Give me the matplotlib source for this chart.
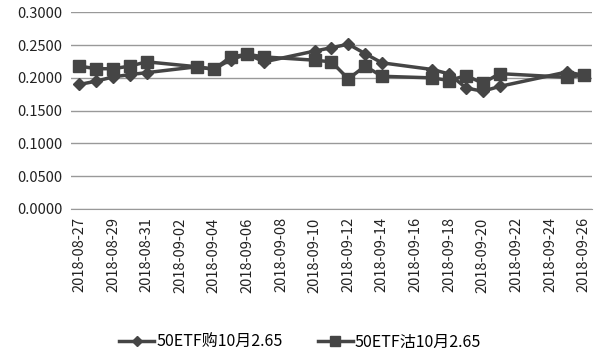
import matplotlib
matplotlib.use("Agg")
import matplotlib.pyplot as plt
import pandas as pd

dates = ["2018-08-27", "2018-08-28", "2018-08-29", "2018-08-30", "2018-08-31",
         "2018-09-03", "2018-09-04", "2018-09-05", "2018-09-06", "2018-09-07",
         "2018-09-10", "2018-09-11", "2018-09-12", "2018-09-13", "2018-09-14",
         "2018-09-17", "2018-09-18", "2018-09-19", "2018-09-20", "2018-09-21",
         "2018-09-25", "2018-09-26"]
call_vals = [0.190, 0.195, 0.2015, 0.205, 0.208,
             0.217, 0.213, 0.228, 0.236, 0.2245,
             0.241, 0.246, 0.2515, 0.237, 0.223,
             0.2128, 0.206, 0.1847, 0.1796, 0.187,
             0.209, 0.204]
put_vals = [0.218, 0.214, 0.214, 0.218, 0.2245,
            0.217, 0.213, 0.232, 0.236, 0.232,
            0.227, 0.2245, 0.1985, 0.218, 0.2025,
            0.200, 0.196, 0.2035, 0.192, 0.2065,
            0.201, 0.204]
call_label = "50ETF购10月2.65"
put_label = "50ETF沽10月2.65"
tick_dates = pd.date_range("2018-08-27", "2018-09-26", freq="2D")
yticks = [0.0, 0.05, 0.10, 0.15, 0.20, 0.25, 0.30]

plt.rcParams['font.family'] = ['Noto Sans CJK SC', 'DejaVu Sans']

x = pd.to_datetime(dates)
fig = plt.figure(figsize=(6.0, 3.53), dpi=100)
ax = fig.add_axes([0.1183, 0.408, 0.8684, 0.557])

c = "#454545"
ax.plot(x, call_vals, color=c, lw=2.5, marker="D", ms=6.5, label=call_label, zorder=3)
ax.plot(x, put_vals, color=c, lw=2.5, marker="s", ms=9, label=put_label, zorder=3)

ax.set_xlim(pd.Timestamp("2018-08-27") - pd.Timedelta(hours=12),
            pd.Timestamp("2018-09-26") + pd.Timedelta(hours=12))
ax.set_ylim(0, 0.30)
ax.set_yticks(yticks)
ax.set_yticklabels([f"{v:.4f}" for v in yticks], fontsize=10.5, color="#222222")
ax.set_xticks(tick_dates)
ax.set_xticklabels([d.strftime("%Y-%m-%d") for d in tick_dates], rotation=90,
                   fontsize=10.5, color="#222222")
ax.grid(axis="y", color="#999999", lw=1)
ax.set_axisbelow(True)
for s in ["top", "right", "left"]:
    ax.spines[s].set_visible(False)
ax.spines["bottom"].set_color("#999999")
ax.tick_params(axis="both", length=0, pad=6)

leg = fig.legend(loc="lower center", bbox_to_anchor=(0.5, -0.035), ncol=2, frameon=False,
                 fontsize=11.5, handlelength=2.2, handletextpad=0.1, columnspacing=2.2,
                 markerscale=0.8)
fig.savefig("out.png", dpi=100)
